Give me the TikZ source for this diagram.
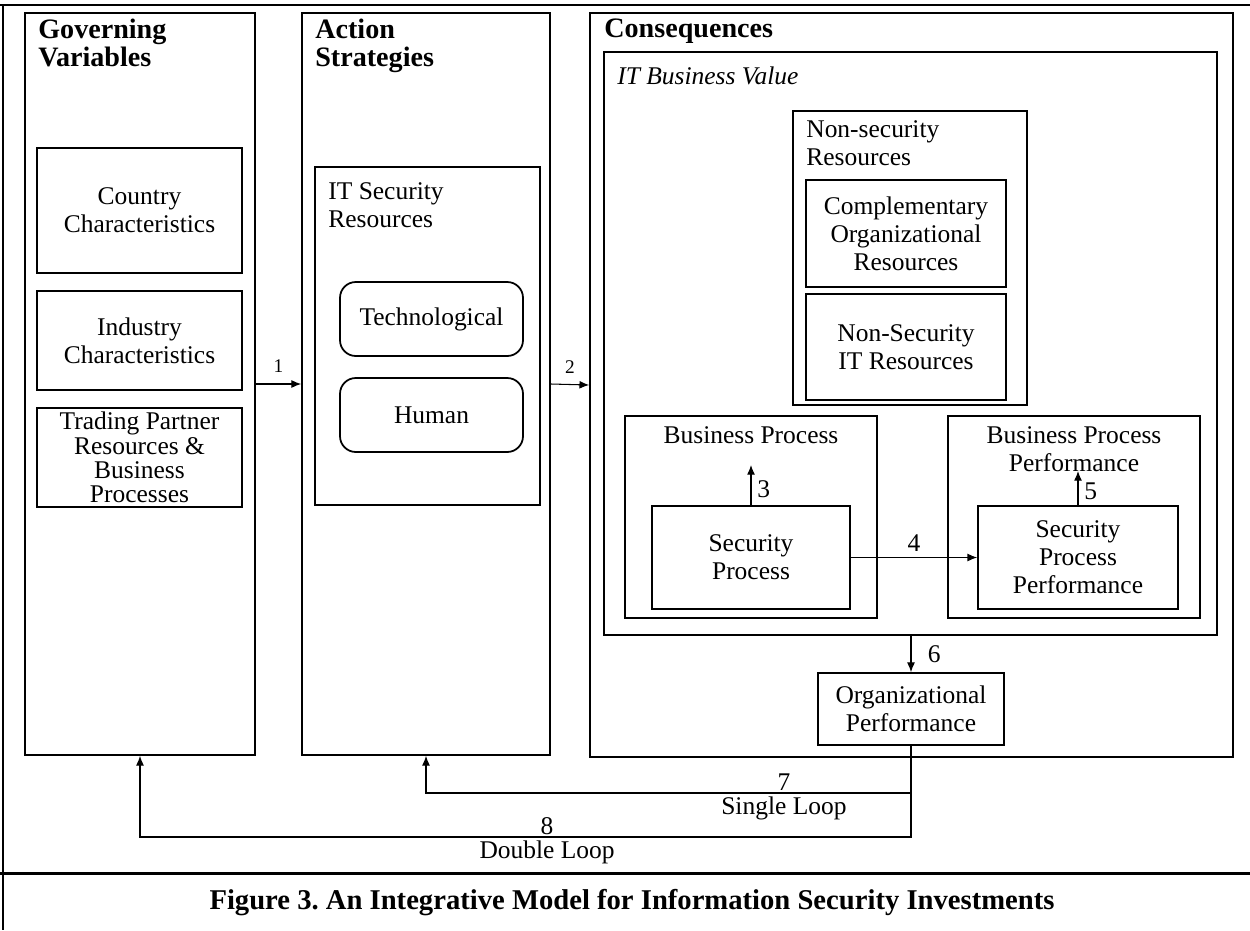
\documentclass[tikz,border=0pt]{standalone}
\usepackage{fontspec}
\setmainfont{Liberation Serif}
\usetikzlibrary{arrows,arrows.meta,positioning,fit}

\begin{document}
\frenchspacing
\begin{tikzpicture}[x=0.02cm, y=-0.02cm,
    box/.style={draw, line width=1pt, inner sep=0pt, align=center},
    sz/.style 2 args={minimum width=#1*0.02cm, minimum height=#2*0.02cm},
    rbox/.style={box, rounded corners=9pt},
    head/.style={anchor=north west, inner sep=0pt, align=left, font=\fontsize{16}{15.5}\selectfont\bfseries},
    tag/.style={anchor=north west, inner sep=0pt, align=left},
    small/.style={font=\fontsize{11}{12}\selectfont, inner sep=6pt},
    link/.style={-{Latex[length=5.5pt,width=4.5pt]}, line width=0.6pt},
    font=\fontsize{14.5}{16}\selectfont]

    \useasboundingbox (0,0) rectangle (1250,930);
    % frame and rule above caption
    \draw[line width=1.7pt] (0,5) -- (1250,5);
    \draw[line width=0.8pt] (3,5) -- (3,930);
    \draw[line width=1.7pt] (0,873) -- (1250,873);

    % governing variables
    \node[box, fit={(25,13) (255,755)}] (gov) {};
    \node[head] at (38,19) {Governing\\Variables};
    \node[box, sz={205}{125}] (country) at (139.5,210.5) {Country\\Characteristics};
    \node[box, sz={205}{99}] (industry) at (139.5,340.5) {Industry\\Characteristics};
    \node[box, sz={205}{99}, font=\fontsize{14.5}{13.8}\selectfont] (trading) at (139.5,457.5)
        {Trading Partner\\Resources \&\\Business\\Processes};

    % action strategies
    \node[box, fit={(302,13) (550,755)}] (act) {};
    \node[head] at (315,19) {Action\\Strategies};
    \node[box, fit={(315,167) (540,505)}] (itsec) {};
    \node[tag] at (328,182) {IT Security\\Resources};
    \node[rbox, sz={183}{74}] (tech) at (431.5,319) {Technological};
    \node[rbox, sz={183}{74}] (human) at (431.5,415) {Human};

    % consequences
    \node[box, fit={(590,13) (1233,757)}] (cons) {};
    \node[head] at (604,19) {Consequences};
    \node[box, fit={(604,52) (1217,635)}] (itbv) {};
    \node[tag, font=\fontsize{14.5}{16}\selectfont\itshape] at (617,66) {IT Business Value};
    \node[box, fit={(793,111) (1027,405)}] (nonsec) {};
    \node[tag] at (806,120) {Non-security\\Resources};
    \node[box, sz={200}{107}] (compl) at (906,233.5) {Complementary\\Organizational\\Resources};
    \node[box, sz={200}{106}] (nsit) at (906,347) {Non-Security\\IT Resources};

    \node[box, fit={(625,416) (877,618)}] (bp) {};
    \node[anchor=north, inner sep=0pt] (bptext) at (751,426) {Business Process};
    \node[box, sz={198}{103}] (sp) at (751,557.5) {Security\\Process};
    \node[box, fit={(948,416) (1200,618)}] (bpp) {};
    \node[anchor=north, inner sep=0pt, align=center] (bpptext) at (1074,426) {Business Process\\Performance};
    \node[box, sz={200}{103}] (spp) at (1078,557.5) {Security\\Process\\Performance};
    \node[box, sz={186}{72}] (org) at (911,709) {Organizational\\Performance};

    \coordinate (tip3) at (751,465);
    \coordinate (tip5) at (1078,471);
    \coordinate (loop7) at (911,793);
    \coordinate (loop8) at (911,837);

    % connectors
    \draw[link] (gov.east) -- node[small, above] {1} (act.west);
    \draw[link] (act.east) -- node[small, above] {2} (cons.west);
    \draw[link] (sp.north) -- node[right, pos=.4] {3} (sp.north |- tip3);
    \draw[link] (sp.east) -- node[above] {4} (spp.west);
    \draw[link] (spp.north) -- node[right, pos=.4] {5} (spp.north |- tip5);
    \draw[link] (org.north |- itbv.south) -- node[right, xshift=6pt] {6} (org.north);
    \draw[link] (org.south) -- (loop7) -| node[pos=.131, above, inner sep=1pt] {7}
        node[pos=.131, below, inner sep=2pt] {Single Loop} (act.south);
    \draw[link] (org.south) -- (loop8) -| node[pos=.236, above, inner sep=1pt] {8}
        node[pos=.236, below, inner sep=2pt] {Double Loop} (gov.south);

    \node[font=\fontsize{16.3}{18}\selectfont\bfseries] (caption) at (632,903)
        {Figure 3. An Integrative Model for Information Security Investments};
\end{tikzpicture}
\end{document}
